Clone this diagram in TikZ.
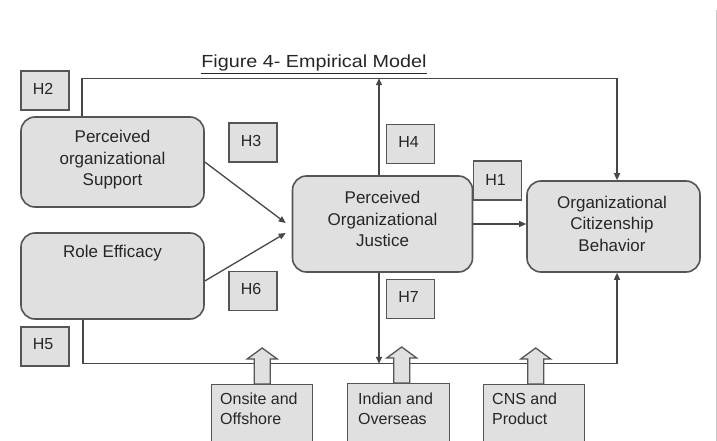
\documentclass[tikz,border=0pt]{standalone}
\usepackage{fontspec}
\setmainfont{Liberation Sans}
\usetikzlibrary{arrows.meta,calc}
\definecolor{boxfill}{HTML}{E0E0E0}
\definecolor{boxline}{HTML}{555555}
\definecolor{txt}{HTML}{262626}
\definecolor{wire}{HTML}{474747}
\begin{document}
\begin{tikzpicture}[x=1pt,y=-1pt,
  bigbox/.style={draw=boxline,fill=boxfill,line width=1.6pt,rounded corners=14pt,inner sep=0pt},
  hbox/.style={draw=boxline,fill=boxfill,line width=1.4pt,inner sep=0pt,minimum width=48pt,minimum height=39pt},
  htext/.style={text=txt,font=\fontsize{16}{20}\selectfont,inner sep=0pt},
  sqbox/.style={draw=boxline,fill=boxfill,line width=1.4pt,inner sep=0pt,minimum width=101pt,minimum height=70pt,anchor=north west},
  boxtext/.style={text=txt,font=\fontsize{17}{21.5}\selectfont,align=center,inner sep=0pt},
  btext/.style={text=txt,font=\fontsize{16}{20}\selectfont,align=left,inner sep=0pt,anchor=north west},
  titletext/.style={text=txt,font=\fontsize{17.5}{20}\selectfont,inner sep=0pt},
  wire/.style={draw=wire,line width=1.3pt},
  arr/.style={wire,-{Triangle[length=7pt,width=6pt]}},
  fatstyle/.style={draw=boxline,fill=boxfill,line width=1.3pt,line join=miter},
  fatup/.pic={\draw[fatstyle] (-8,0) -- (-8,-25) -- (-15,-25) -- (0,-36) -- (15,-25) -- (8,-25) -- (8,0) -- cycle;}
]
\clip (0,0) rectangle (717,441);
\fill[white] (0,0) rectangle (717,441);
\draw[black!22,line width=1pt] (716,10) -- (716,441);

% title
\node[titletext] (title) at (314,62.5) {\scalebox{1.13}[1]{Figure 4- Empirical Model}};
\draw[txt,line width=1.2pt] ([yshift=-3pt]title.south west) -- ([yshift=-3pt]title.south east);

% main boxes
\node[bigbox,minimum width=183pt,minimum height=90pt] (pos) at (112.5,162) {};
\node[boxtext] (post) at (112.5,160) {Perceived\\organizational\\Support};
\node[bigbox,minimum width=183pt,minimum height=86pt] (re) at (112.5,276) {};
\node[boxtext] (ret) at (112.5,253) {Role Efficacy};
\node[bigbox,minimum width=180pt,minimum height=96pt] (pj) at (382.5,224) {};
\node[boxtext] (pjt) at (382.5,219) {Perceived\\Organizational\\Justice};
\node[bigbox,minimum width=173pt,minimum height=91pt] (ocb) at (613.5,226.5) {};
\node[boxtext] (ocbt) at (612,223.5) {Organizational\\Citizenship\\Behavior};

% hypothesis labels
\node[hbox] (h2) at (45,90.5) {};
\node[htext] (h2t) at ([xshift=-2pt,yshift=2pt]h2.center) {H2};
\node[hbox] (h3) at (253,142.5) {};
\node[htext] (h3t) at ([xshift=-2pt,yshift=2pt]h3.center) {H3};
\node[hbox] (h4) at (410.5,144) {};
\node[htext] (h4t) at ([xshift=-2pt,yshift=2pt]h4.center) {H4};
\node[hbox] (h1) at (497.5,180.5) {};
\node[htext] (h1t) at ([xshift=-2pt,yshift=1pt]h1.center) {H1};
\node[hbox] (h6) at (253,291) {};
\node[htext] (h6t) at ([xshift=-2pt,yshift=2pt]h6.center) {H6};
\node[hbox] (h5) at (45,346.5) {};
\node[htext] (h5t) at ([xshift=-2pt,yshift=2pt]h5.center) {H5};
\node[hbox] (h7) at (410.5,299) {};
\node[htext] (h7t) at ([xshift=-2pt,yshift=2pt]h7.center) {H7};

% connectors
\draw[arr] ([xshift=-30.5pt]pos.north) -- ++(0,-38) coordinate (tl) -| ([xshift=3.5pt]ocb.north);
\draw[arr] ([xshift=-3.5pt]pj.north) -- ([xshift=-3.5pt]pj.north |- tl);
\draw[arr] (pos.east) -- ([xshift=-6pt,yshift=1pt]pj.west);
\draw[arr] ([yshift=-5pt]re.east) -- ([xshift=-6pt,yshift=-9pt]pj.west);
\draw[arr] (pj.east) -- (pj.east -| ocb.west);
\draw[arr] ([xshift=-29.5pt]re.south) -- ++(0,44) coordinate (bl) -| ([xshift=3.5pt]ocb.south);
\draw[arr] ([xshift=-3.5pt]pj.south) -- ([xshift=-3.5pt]pj.south |- bl);

% moderator boxes
\node[sqbox] (onsite) at (211,384) {};
\node[btext] (onsitet) at ([xshift=9pt,yshift=-9pt]onsite.north west) {Onsite and\\Offshore};
\node[sqbox,minimum width=102pt] (indian) at (347,383) {};
\node[btext] (indiant) at ([xshift=11pt,yshift=-10pt]indian.north west) {Indian and\\Overseas};
\node[sqbox] (cns) at (483,384) {};
\node[btext] (cnst) at ([xshift=9pt,yshift=-9pt]cns.north west) {CNS and\\Product};

\path (onsite.north) pic {fatup};
\path ([xshift=3pt]indian.north) pic {fatup};
\path ([xshift=1.5pt]cns.north) pic {fatup};
\end{tikzpicture}
\end{document}
